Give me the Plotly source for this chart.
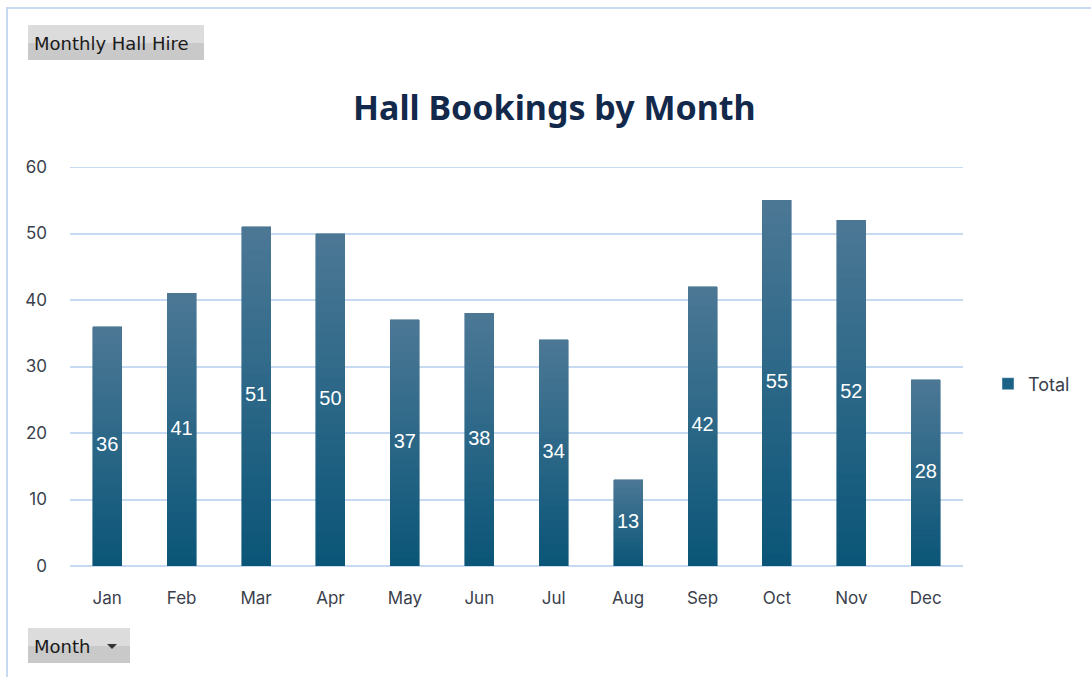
import plotly.graph_objects as go

months = ["Jan", "Feb", "Mar", "Apr", "May", "Jun", "Jul", "Aug", "Sep", "Oct", "Nov", "Dec"]
totals = [36, 41, 51, 50, 37, 38, 34, 13, 42, 55, 52, 28]
y_ticks = [0, 10, 20, 30, 40, 50, 60]

W, H = 1091, 677
L, R, T, B = 70, 1091 - 963, 167, 677 - 566
PW, PH = W - L - R, H - T - B

def px_x(p):
    return (p - L) / PW

def px_y(q):
    return (H - B - q) / PH

top_rgb = (0x4c, 0x78, 0x95)
bot_rgb = (0x0a, 0x55, 0x78)
N = 30

fig = go.Figure()
for i in range(N):
    t = (i + 0.5) / N
    c = tuple(round(bot_rgb[k] + (top_rgb[k] - bot_rgb[k]) * t) for k in range(3))
    col = "rgb(%d,%d,%d)" % c
    fig.add_trace(go.Bar(
        x=months, y=[v / N for v in totals],
        marker=dict(color=col, line=dict(color=col, width=0.6)),
        showlegend=False, hoverinfo="skip",
    ))

# legend entry
fig.add_trace(go.Bar(x=[None], y=[None], name="Total", marker_color="#1c6186", showlegend=True))

fig.add_trace(go.Scatter(
    x=months, y=[v / 2 for v in totals], mode="text",
    text=[str(v) for v in totals],
    textfont=dict(color="white", size=20, family="Liberation Sans, Arial"),
    showlegend=False, hoverinfo="skip",
))

grid_col = "#c6daf2"
tick_font = dict(family="Inter, Liberation Sans", size=17, color="#3b3f4c")
fig.update_layout(
    width=W, height=H,
    margin=dict(l=L, r=R, t=T, b=B, autoexpand=False),
    paper_bgcolor="white", plot_bgcolor="white",
    barmode="stack", bargap=0.61,
    xaxis=dict(range=[-0.5, len(months) - 0.5], showgrid=False, showline=False, ticks="",
               zeroline=False, tickfont=tick_font, ticklabelstandoff=20, fixedrange=True),
    yaxis=dict(range=[0, 60], tickvals=y_ticks, showgrid=True, gridcolor=grid_col, gridwidth=2,
               zeroline=True, zerolinecolor=grid_col, zerolinewidth=2, showline=False, ticks="",
               tickfont=tick_font, ticklabelstandoff=22, fixedrange=True),
    showlegend=True,
    legend=dict(x=px_x(988), y=px_y(384), xanchor="left", yanchor="middle",
                font=dict(family="Inter, Liberation Sans", size=18, color="#3b3f4c"),
                itemwidth=30, bgcolor="rgba(0,0,0,0)"),
    shapes=[
        dict(type="line", xref="paper", yref="y", x0=0, x1=1, y0=y_ticks[-1], y1=y_ticks[-1],
             line=dict(color=grid_col, width=2), layer="below"),
        dict(type="rect", xref="paper", yref="paper", x0=px_x(7), x1=px_x(1100),
             y0=px_y(700), y1=px_y(8), line=dict(color="#c9daf0", width=2), layer="below"),
        dict(type="rect", xref="paper", yref="paper", x0=px_x(28), x1=px_x(204),
             y0=px_y(60), y1=px_y(42), line=dict(width=0), fillcolor="#c9c9c9"),
        dict(type="rect", xref="paper", yref="paper", x0=px_x(28), x1=px_x(204),
             y0=px_y(43), y1=px_y(25), line=dict(width=0), fillcolor="#dcdcdc"),
        dict(type="rect", xref="paper", yref="paper", x0=px_x(28), x1=px_x(130),
             y0=px_y(663), y1=px_y(645), line=dict(width=0), fillcolor="#c9c9c9"),
        dict(type="rect", xref="paper", yref="paper", x0=px_x(28), x1=px_x(130),
             y0=px_y(646), y1=px_y(628), line=dict(width=0), fillcolor="#dcdcdc"),
        dict(type="path", xref="paper", yref="paper",
             path="M %f,%f L %f,%f L %f,%f Z" % (px_x(107), px_y(644), px_x(117), px_y(644), px_x(112), px_y(649)),
             fillcolor="#333333", line=dict(width=0)),
    ],
    annotations=[
        dict(text="<b>Hall Bookings by Month</b>", xref="paper", yref="paper",
             x=px_x(554), y=px_y(107), xanchor="center", yanchor="middle", showarrow=False,
             font=dict(family="Noto Sans, Open Sans", size=34, color="#13294b")),
        dict(text="Monthly Hall Hire", xref="paper", yref="paper",
             x=px_x(32), y=px_y(43), xanchor="left", yanchor="middle", showarrow=False,
             font=dict(family="DejaVu Sans", size=18, color="#1a1a1a")),
        dict(text="Month", xref="paper", yref="paper",
             x=px_x(32), y=px_y(646), xanchor="left", yanchor="middle", showarrow=False,
             font=dict(family="DejaVu Sans", size=18, color="#1a1a1a")),
    ],
)

fig.write_html("out.html", config={"displayModeBar": False},
               post_script="document.body.style.margin='0';")
